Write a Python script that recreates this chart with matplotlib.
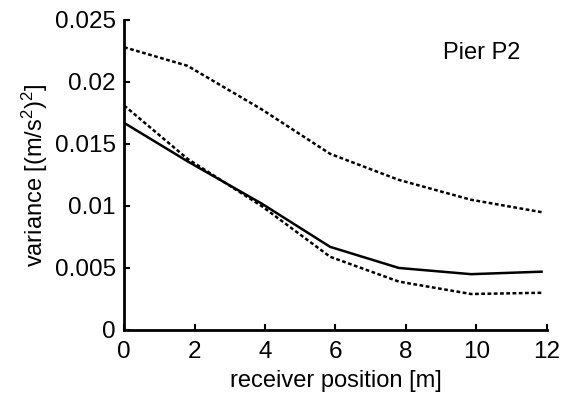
import matplotlib
matplotlib.use("Agg")
import matplotlib.pyplot as plt

plt.rcParams['font.family'] = ['Liberation Sans', 'DejaVu Sans']
plt.rcParams['mathtext.default'] = 'regular'

x = [0, 1.8, 3.9, 5.85, 7.8, 9.85, 11.85]
upper_dashed = [0.0228, 0.0213, 0.0178, 0.0142, 0.0121, 0.0105, 0.0095]
solid = [0.0167, 0.0136, 0.0102, 0.0067, 0.0050, 0.0045, 0.0047]
lower_dashed = [0.0181, 0.0138, 0.0100, 0.0059, 0.0039, 0.0029, 0.0030]
xticks = [0, 2, 4, 6, 8, 10, 12]
yticks = [0, 0.005, 0.01, 0.015, 0.02, 0.025]
yticklabels = ['0', '0.005', '0.01', '0.015', '0.02', '0.025']

fig = plt.figure(figsize=(5.72, 3.99), dpi=100)
ax = fig.add_axes([0.217, 0.173, 0.739, 0.777])
ax.plot(x, upper_dashed, color='black', lw=1.8, ls=(0, (1.5, 1)))
ax.plot(x, lower_dashed, color='black', lw=1.8, ls=(0, (1.5, 1)))
ax.plot(x, solid, color='black', lw=1.8)
ax.set_xlim(0, 12)
ax.set_ylim(0, 0.025)
ax.set_xticks(xticks)
ax.set_yticks(yticks)
ax.set_yticklabels(yticklabels)
for s in ['top', 'right']:
    ax.spines[s].set_visible(False)
for s in ['left', 'bottom']:
    ax.spines[s].set_linewidth(2)
ax.tick_params(direction='in', length=4, width=1.5, labelsize=17.5)
ax.tick_params(axis='x', pad=8)
ax.tick_params(axis='y', pad=6)
ax.set_xlabel('receiver position [m]', fontsize=17, labelpad=5)
ax.set_ylabel('variance [(m/s$^2$)$^2$]', fontsize=17, labelpad=3)
ax.text(0.846, 0.894, 'Pier P2', transform=ax.transAxes, fontsize=17, ha='center', va='center')
fig.savefig('out.png', dpi=100)
